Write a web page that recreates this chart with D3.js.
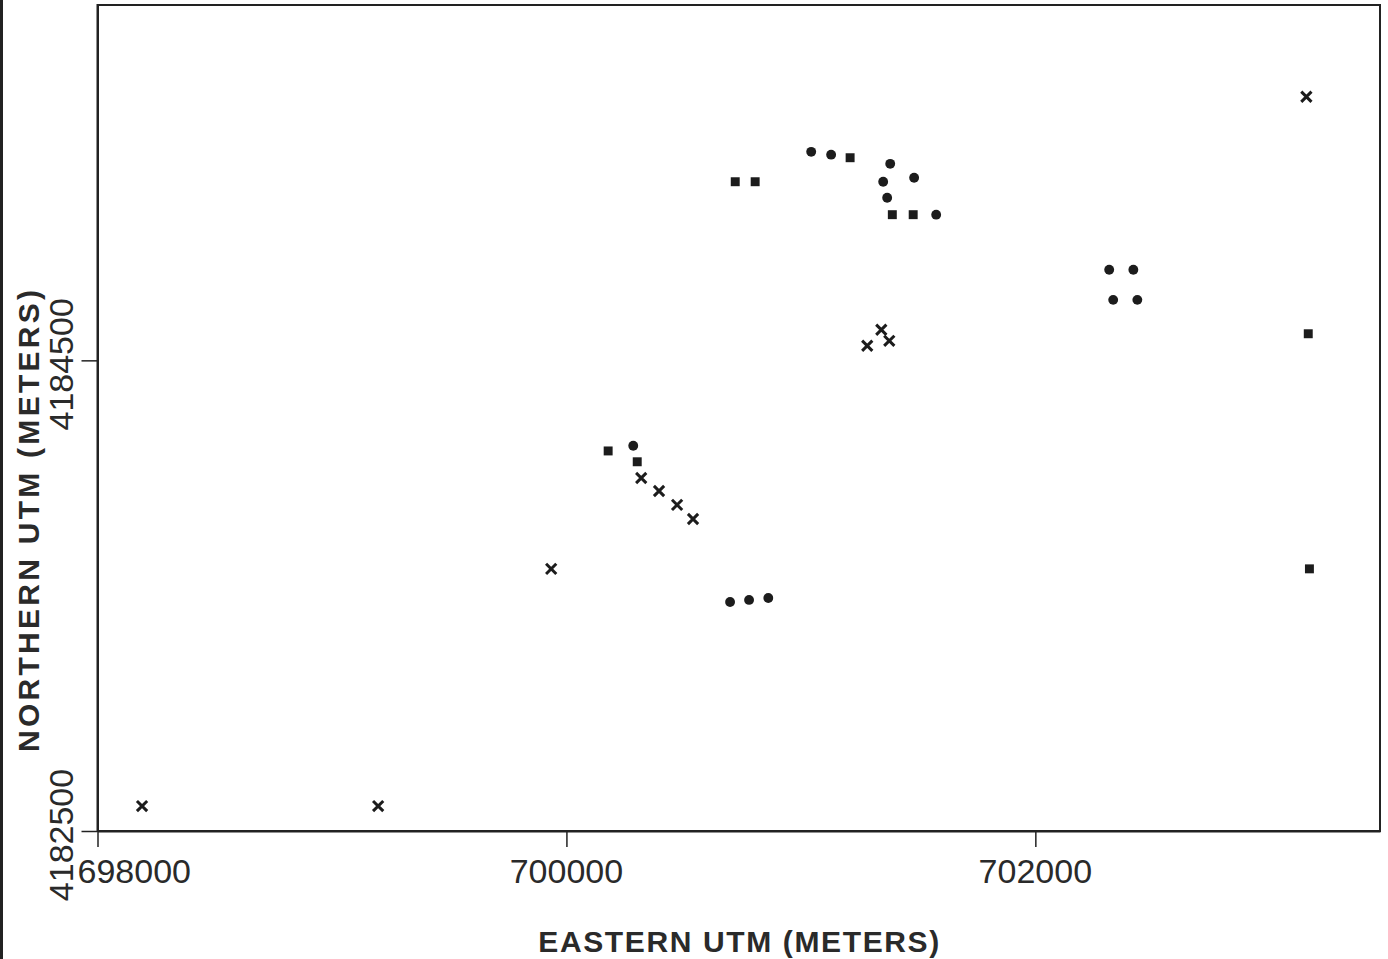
<!DOCTYPE html>
<html>
<head>
<meta charset="utf-8">
<script src="https://cdn.jsdelivr.net/npm/d3@7"></script>
<style>
  html, body { margin: 0; padding: 0; background: #fff; }
  svg { display: block; }
  .tickLabel { font-family: "Liberation Sans", Arial, sans-serif; font-size: 34px; fill: #2a2a2a; }
  .axisTitle { font-family: "Liberation Sans", Arial, sans-serif; font-weight: bold; font-size: 30px; fill: #2a2a2a; }
</style>
</head>
<body>
<div id="scatter"></div>
<script>
// point locations (UTM metres)
var crossEast  = [698190, 699197, 699935, 700319, 700395, 700472, 700540, 701283, 701343, 701377, 703156];
var crossNorth = [4182606, 4182606, 4183614, 4184000, 4183945, 4183886, 4183826, 4184562, 4184630, 4184583, 4185620];

var circleEast  = [701044, 701129, 701381, 701351, 701483, 701368, 701577, 700285, 700698, 700779, 700861, 702315, 702418, 702332, 702435];
var circleNorth = [4185386, 4185374, 4185335, 4185259, 4185276, 4185191, 4185119, 4184137, 4183473, 4183482, 4183490, 4184885, 4184885, 4184757, 4184757];

var squareEast  = [700720, 700805, 701210, 701390, 701479, 700178, 700302, 703164, 703169];
var squareNorth = [4185259, 4185259, 4185361, 4185119, 4185119, 4184115, 4184069, 4184613, 4183614];

var xTicks = [698000, 700000, 702000];
var yTicks = [4182500, 4184500];

var svgWidth = 1388;
var svgHeight = 959;

var margin = { top: 5, right: 8, bottom: 128, left: 97.5 };
var width = svgWidth - margin.left - margin.right;
var height = svgHeight - margin.top - margin.bottom;

var svg = d3.select("#scatter")
    .append("svg")
    .attr("width", svgWidth)
    .attr("height", svgHeight);

// dark scan edge on the far left
svg.append("rect")
    .attr("x", 0).attr("y", 0)
    .attr("width", 3).attr("height", svgHeight)
    .attr("fill", "#222");

var chartGroup = svg.append("g")
    .attr("transform", `translate(${margin.left}, ${margin.top})`);

var xScale = d3.scaleLinear()
    .domain([698000, 703470])
    .range([0, width]);

var yScale = d3.scaleLinear()
    .domain([4182500, 4186010])
    .range([height, 0]);

// frame
chartGroup.append("rect")
    .attr("width", width)
    .attr("height", height)
    .attr("fill", "none")
    .attr("stroke", "#222")
    .attr("stroke-width", 2);

// axes, ticks pointing outward
var xAxis = d3.axisBottom(xScale).tickValues(xTicks).tickSize(16).tickSizeOuter(0).tickFormat("");
var yAxis = d3.axisLeft(yScale).tickValues(yTicks).tickSize(16).tickSizeOuter(0).tickFormat("");

var xG = chartGroup.append("g")
    .attr("transform", `translate(0, ${height})`)
    .call(xAxis);
var yG = chartGroup.append("g").call(yAxis);

[xG, yG].forEach(function (g) {
    g.select(".domain").attr("stroke", "#222").attr("stroke-width", 2);
    g.selectAll(".tick line").attr("stroke", "#222").attr("stroke-width", 1.5);
});

// x tick labels (the first one is pushed right so it starts near the axis)
chartGroup.selectAll(".xLabel")
    .data(xTicks)
    .enter()
    .append("text")
    .attr("class", "tickLabel")
    .attr("x", d => xScale(d))
    .attr("dx", (d, i) => i === 0 ? -20 : 0)
    .attr("y", height + 52)
    .attr("text-anchor", (d, i) => i === 0 ? "start" : "middle")
    .text(d => d);

// y tick labels, rotated
chartGroup.selectAll(".yLabel")
    .data(yTicks)
    .enter()
    .append("text")
    .attr("class", "tickLabel")
    .attr("transform", d => `translate(-25, ${yScale(d) + 4}) rotate(-90)`)
    .attr("text-anchor", "middle")
    .text(d => d);

// axis titles
chartGroup.append("text")
    .attr("class", "axisTitle")
    .attr("x", width / 2)
    .attr("y", height + 121)
    .attr("text-anchor", "middle")
    .attr("textLength", 401)
    .attr("lengthAdjust", "spacing")
    .text("EASTERN UTM (METERS)");

chartGroup.append("text")
    .attr("class", "axisTitle")
    .attr("transform", `translate(-59, 516) rotate(-90)`)
    .attr("text-anchor", "middle")
    .attr("textLength", 462)
    .attr("lengthAdjust", "spacing")
    .text("NORTHERN UTM (METERS)");

// markers
var crossType = d3.symbolX || d3.symbolCross;
var crossData = crossEast.map((e, i) => ({ e: e, n: crossNorth[i] }));
var circleData = circleEast.map((e, i) => ({ e: e, n: circleNorth[i] }));
var squareData = squareEast.map((e, i) => ({ e: e, n: squareNorth[i] }));

chartGroup.selectAll(".cross")
    .data(crossData)
    .enter()
    .append("path")
    .attr("class", "cross")
    .attr("d", d3.symbol().type(crossType).size(d3.symbolX ? 70 : 90))
    .attr("transform", d => `translate(${xScale(d.e)}, ${yScale(d.n)})` + (d3.symbolX ? "" : " rotate(45)"))
    .attr("fill", d3.symbolX ? "none" : "#1c1c1c")
    .attr("stroke", "#1c1c1c")
    .attr("stroke-width", d3.symbolX ? 3 : 0);

chartGroup.selectAll(".circle")
    .data(circleData)
    .enter()
    .append("path")
    .attr("class", "circle")
    .attr("d", d3.symbol().type(d3.symbolCircle).size(76))
    .attr("transform", d => `translate(${xScale(d.e)}, ${yScale(d.n)})`)
    .attr("fill", "#1c1c1c");

chartGroup.selectAll(".square")
    .data(squareData)
    .enter()
    .append("path")
    .attr("class", "square")
    .attr("d", d3.symbol().type(d3.symbolSquare).size(80))
    .attr("transform", d => `translate(${xScale(d.e)}, ${yScale(d.n)})`)
    .attr("fill", "#1c1c1c");
</script>
</body>
</html>
